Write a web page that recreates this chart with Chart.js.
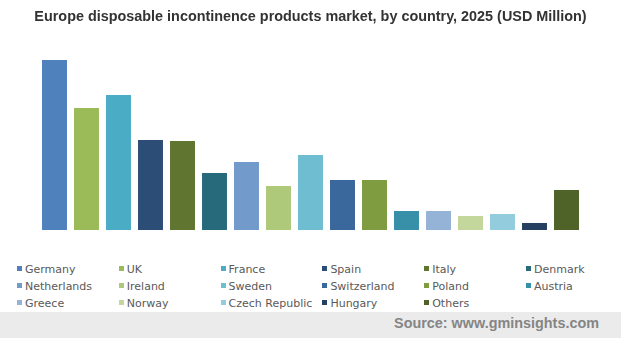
<!DOCTYPE html>
<html>
<head>
<meta charset="utf-8">
<script src="https://cdn.jsdelivr.net/npm/chart.js@4"></script>
<style>
    body { margin: 0; background: #fff; }
    #wrap { position: relative; width: 621px; height: 338px; overflow: hidden; }
    #title {
        position: absolute; left: 0; top: 8px; width: 621px; text-align: center;
        font: bold 14.4px "Liberation Sans", Arial, sans-serif; color: #333;
    }
    #chartBox { position: absolute; left: 0; top: 0; width: 621px; height: 240px; }
    #legend { position: absolute; left: 17px; top: 263px; }
    .item {
        position: absolute; white-space: nowrap;
        font: 11px "DejaVu Sans", Verdana, sans-serif; color: #595959; line-height: 14px;
    }
    .item span.sw { display: inline-block; width: 5px; height: 5px; margin-right: 3px; vertical-align: 2px; }
    #footer {
        position: absolute; left: 0; top: 312px; width: 621px; height: 26px; background: #ebebeb;
    }
    #source {
        position: absolute; right: 22px; top: 3px;
        font: bold 14.4px "Liberation Sans", Arial, sans-serif; color: #858585;
    }
</style>
</head>
<body>
<div id="wrap">
    <div id="chartBox"><canvas id="marketChart"></canvas></div>
    <div id="title">Europe disposable incontinence products market, by country, 2025 (USD Million)</div>
    <div id="legend"></div>
    <div id="footer"><div id="source">Source: www.gminsights.com</div></div>
</div>
<script>
// Países y valores de mercado estimados (USD Million)
const countries = ['Germany', 'UK', 'France', 'Spain', 'Italy', 'Denmark',
    'Netherlands', 'Ireland', 'Sweden', 'Switzerland', 'Poland', 'Austria',
    'Greece', 'Norway', 'Czech Republic', 'Hungary', 'Others'];
const marketValues = [170, 122, 135, 90, 89, 57, 68, 44, 75, 50, 50, 19, 19, 14, 16, 7, 40];
const barColors = ['#4f81bd', '#9bbb59', '#4bacc6', '#2c4d75', '#5f7530', '#276a7c',
    '#729aca', '#afc97a', '#6fbdd1', '#3a679c', '#7f9c40', '#378fa8',
    '#95b3d7', '#c3d69b', '#93cddd', '#254061', '#4f6228'];

// Leyenda en 6 columnas
const legendEl = document.getElementById('legend');
countries.forEach((name, i) => {
    const item = document.createElement('div');
    item.className = 'item';
    item.style.left = (i % 6) * 101.8 + 'px';
    item.style.top = Math.floor(i / 6) * 17 + 'px';
    item.innerHTML = '<span class="sw" style="background:' + barColors[i] + '"></span>' + name;
    legendEl.appendChild(item);
});

new Chart(document.getElementById('marketChart'), {
    type: 'bar',
    data: {
        labels: countries,
        datasets: [{
            data: marketValues,
            backgroundColor: barColors,
            barPercentage: 0.78,
            categoryPercentage: 1
        }]
    },
    options: {
        responsive: true,
        maintainAspectRatio: false,
        animation: false,
        layout: { padding: { left: 38.5, right: 38.5, top: 60, bottom: 10 } },
        plugins: { legend: { display: false }, tooltip: { enabled: false } },
        scales: {
            x: { display: false },
            y: { display: false, min: 0, max: 170 }
        }
    }
});
</script>
</body>
</html>
